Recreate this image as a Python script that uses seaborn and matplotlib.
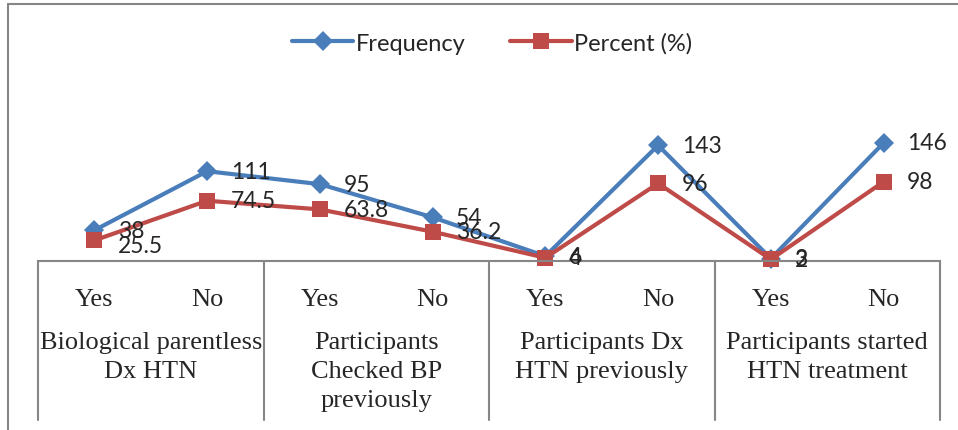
import matplotlib
matplotlib.use('Agg')
import matplotlib.pyplot as plt
import matplotlib.transforms as mtransforms
from matplotlib.lines import Line2D
import seaborn as sns

# data
answers = ['Yes', 'No', 'Yes', 'No', 'Yes', 'No', 'Yes', 'No']
groups = ['Biological parentless\nDx HTN',
          'Participants\nChecked BP\npreviously',
          'Participants Dx\nHTN previously',
          'Participants started\nHTN treatment']
frequency = [38, 111, 95, 54, 6, 143, 3, 146]
percent = [25.5, 74.5, 63.8, 36.2, 4, 96, 2, 98]
pos = list(range(len(answers)))

sns.set_style('white')
plt.rcParams['font.family'] = ['Lato', 'DejaVu Sans']

W, H = 958, 431
fig = plt.figure(figsize=(W / 100, H / 100), dpi=100)
ax = fig.add_axes([38 / W, (H - 262) / H, 902 / W, 182 / H])

blue = '#4A7EBB'
red = '#BE4B48'
sns.lineplot(x=pos, y=frequency, ax=ax, color=blue, lw=3, marker='D',
             markersize=10, markeredgewidth=0, label='Frequency', clip_on=False)
sns.lineplot(x=pos, y=percent, ax=ax, color=red, lw=3, marker='s',
             markersize=12, markeredgewidth=0, label='Percent (%)', clip_on=False)

# data labels (the first percent label sits a little lower, as in the original)
for x, v in zip(pos, frequency):
    ax.annotate(str(v), (x, v), xytext=(17, 0), textcoords='offset points',
                ha='left', va='center', fontsize=16.5)
for x, v in zip(pos, percent):
    dy = -4 if x == 0 else 0
    ax.annotate(f'{v:g}', (x, v), xytext=(17, dy), textcoords='offset points',
                ha='left', va='center', fontsize=16.5)

ax.set_xlim(-0.5, 7.5)
ax.set_ylim(0, 225)
ax.set_xticks([])
ax.set_yticks([])
for s in ['top', 'right', 'left']:
    ax.spines[s].set_visible(False)
ax.spines['bottom'].set_color('#868686')
ax.spines['bottom'].set_linewidth(1.5)
ax.set_xlabel('')
ax.set_ylabel('')

# multi-level category axis
trans = mtransforms.blended_transform_factory(ax.transData, ax.transAxes)
serif = ['Liberation Serif', 'DejaVu Serif']
for x, a in zip(pos, answers):
    ax.text(x, -38 / 182, a, transform=trans, ha='center', va='center',
            fontsize=19, family=serif)
for i, g in enumerate(groups):
    ax.text(2 * i + 0.5, -70 / 182, g, transform=trans, ha='center', va='top',
            fontsize=19, family=serif, linespacing=1.4)
for b in [-0.5, 1.5, 3.5, 5.5, 7.5]:
    ax.plot([b, b], [0, -159 / 182], transform=trans, color='#868686',
            lw=1.5, clip_on=False)

# outer chart frame (partly cropped)
fig.add_artist(Line2D([8 / W, 8 / W], [0, 1 - 5 / H], color='#868686', lw=1.5))
fig.add_artist(Line2D([8 / W, 1], [1 - 5 / H, 1 - 5 / H], color='#868686', lw=1.5))

ax.legend(loc='center', bbox_to_anchor=(492 / W, 1 - 44 / H),
          bbox_transform=fig.transFigure, ncol=2, frameon=False,
          fontsize=17, handlelength=2.6, handletextpad=0.1, columnspacing=1.9)

fig.savefig('out.png', dpi=100)
